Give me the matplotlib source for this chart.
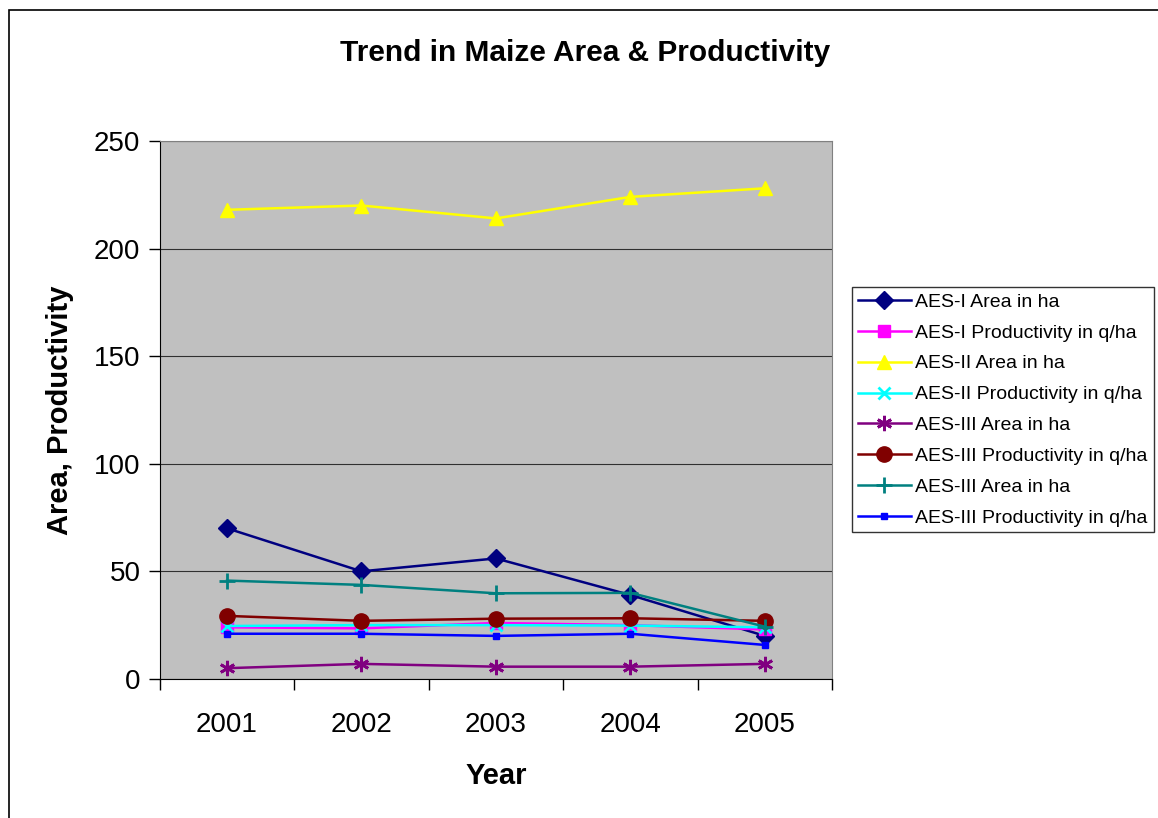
import matplotlib.pyplot as plt
from matplotlib.patches import Rectangle

plt.rcParams['font.family'] = ['Liberation Sans', 'DejaVu Sans']

years = ["2001", "2002", "2003", "2004", "2005"]

aes1_area = [70, 50, 56, 39, 20]
aes1_prod = [24, 23.5, 26, 25, 23]
aes2_area = [218, 220, 214, 224, 228]
aes2_prod = [24.6, 25, 25, 24.8, 24]
aes3_area = [5, 7, 5.7, 5.7, 7]
aes3_prod = [29.3, 27, 28, 28.2, 27]
aes3_area_b = [45.7, 43.7, 39.8, 40, 24.3]
aes3_prod_b = [21, 21, 20, 21, 15.8]

labels = ["AES-I Area in ha", "AES-I Productivity in q/ha", "AES-II Area in ha",
          "AES-II Productivity in q/ha", "AES-III Area in ha",
          "AES-III Productivity in q/ha", "AES-III Area in ha",
          "AES-III Productivity in q/ha"]
series = [aes1_area, aes1_prod, aes2_area, aes2_prod, aes3_area, aes3_prod,
          aes3_area_b, aes3_prod_b]
colors = ["#000080", "#FF00FF", "#FFFF00", "#00FFFF", "#800080", "#800000",
          "#008080", "#0000FF"]
markers = ["D", "s", "^", "x", (6, 2, 0), "o", "+", "s"]
msizes = [9, 9, 10, 9, 11, 11, 12, 5]

fig = plt.figure(figsize=(11.58, 8.18), dpi=100)
ax = fig.add_axes([0.138, 0.17, 0.5805, 0.6577])
ax.set_facecolor("#C0C0C0")

xs = list(range(1, len(years) + 1))
for y, lab, c, m, ms in zip(series, labels, colors, markers, msizes):
    mew = 2 if m in ("x", "+") or isinstance(m, tuple) else 1
    ax.plot(xs, y, color=c, marker=m, markersize=ms, linewidth=1.8,
            markeredgewidth=mew, label=lab, clip_on=False)

ax.set_xlim(0.5, 5.5)
ax.set_ylim(0, 250)
ax.set_yticks([0, 50, 100, 150, 200, 250])
ax.yaxis.grid(True, color="#303030", linewidth=0.8)
ax.set_axisbelow(True)
ax.set_xticks([0.5, 1.5, 2.5, 3.5, 4.5, 5.5])
ax.set_xticklabels([])
ax.set_xticks(xs, minor=True)
ax.set_xticklabels(years, minor=True)
ax.tick_params(axis="x", which="major", direction="out", length=8, width=1)
ax.tick_params(axis="x", which="minor", length=0, pad=24, labelsize=20)
ax.tick_params(axis="y", direction="out", length=8, width=1, labelsize=20, pad=6)
for s in ["top", "right"]:
    ax.spines[s].set_color("#808080")
for s in ["left", "bottom"]:
    ax.spines[s].set_color("black")

ax.set_xlabel("Year", fontsize=21, fontweight="bold", labelpad=17)
ax.set_ylabel("Area, Productivity", fontsize=21, fontweight="bold", labelpad=14)
fig.text(0.505, 0.935, "Trend in Maize Area & Productivity", ha="center",
         va="center", fontsize=21.5, fontweight="bold")

leg = ax.legend(loc="center left", bbox_to_anchor=(1.03, 0.5), fontsize=14,
                frameon=True, fancybox=False, edgecolor="black",
                borderpad=0.3, labelspacing=0.68, handlelength=2.7,
                handletextpad=0.25, borderaxespad=0)
leg.get_frame().set_linewidth(1)

fig.patches.append(Rectangle((0.008, -0.01), 1.1, 0.998, transform=fig.transFigure,
                             fill=False, edgecolor="black", linewidth=1.2))

fig.savefig("out.png", dpi=100)
